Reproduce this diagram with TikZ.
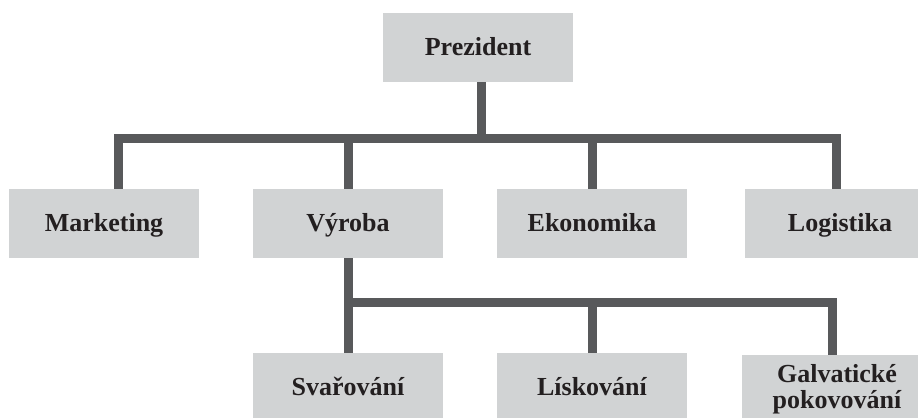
\documentclass[tikz,border=0pt]{standalone}
\usepackage{fontspec}
\setmainfont{Liberation Serif}
\definecolor{boxgray}{RGB}{209,211,212}
\definecolor{linkgray}{RGB}{88,89,91}
\definecolor{inkblack}{RGB}{35,31,32}
\begin{document}
\begin{tikzpicture}[x=0.5pt, y=-0.5pt,
  every node/.style={font=\fontsize{13}{13}\selectfont\bfseries, text=inkblack},
  unit/.style={fill=boxgray, minimum width=95pt, minimum height=34.5pt, inner sep=0pt,
    text height=11pt, text depth=3pt},
  unit2/.style={fill=boxgray, minimum width=95pt, minimum height=34.5pt, inner sep=0pt, align=center},
  link/.style={draw=linkgray, line width=4.5pt, line cap=butt, line join=miter}]
  \clip (0,0) rectangle (918,418);

  % boxes
  \node[unit] (pres) at (478,47.5) {Prezident};
  \node[unit] (mkt) at (104,223.5) {Marketing};
  \node[unit] (vyr) at (348,223.5) {Výroba};
  \node[unit] (eko) at (592,223.5) {Ekonomika};
  \node[unit] (log) at (840,223.5) {Logistika};
  \node[unit] (sva) at (348,387.5) {Svařování};
  \node[unit] (lis) at (592,387.5) {Lískování};
  \node[unit2] (gal) at (837,389.5) {Galvatické\\pokovování};

  % branch points
  \coordinate (hubtop) at (481.5,138.5);
  \coordinate (hubvyr) at (348.5,302.5);

  % connectors, top level
  \draw[link] (pres.south -| hubtop) -- (hubtop);
  \draw[link] ([xshift=7.25pt]mkt.north) |- (hubtop) -| ([xshift=-1.75pt]log.north);
  \draw[link] (vyr.north) -- (vyr.north |- hubtop);
  \draw[link] (eko.north) -- (eko.north |- hubtop);

  % connectors, Vyroba
  \draw[link] (vyr.south) -- (sva.north);
  \draw[link] (vyr.south |- hubvyr) -| ([xshift=-2.5pt]gal.north);
  \draw[link] (lis.north) -- (lis.north |- hubvyr);
\end{tikzpicture}
\end{document}
